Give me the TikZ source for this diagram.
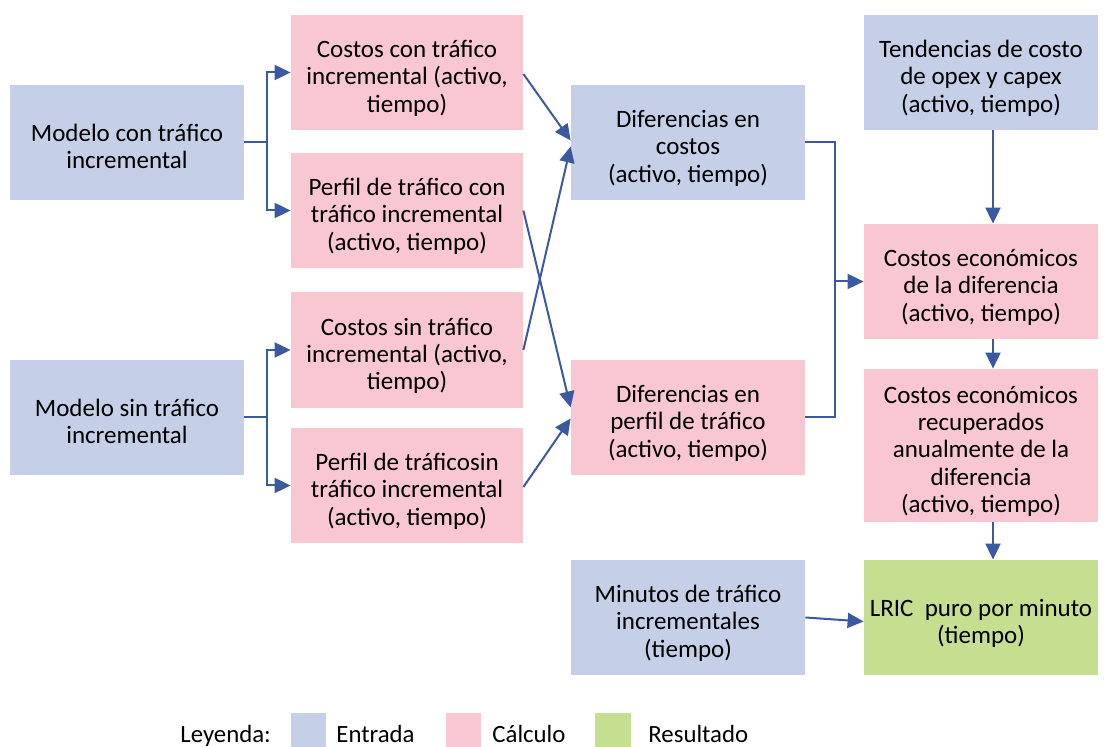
\documentclass[tikz,border=0pt]{standalone}
\usepackage{fontspec}
\setmainfont{Carlito}
\usetikzlibrary{arrows.meta,calc}
\definecolor{inblue}{RGB}{197,208,232}
\definecolor{calcpink}{RGB}{249,199,209}
\definecolor{resgreen}{RGB}{197,222,143}
\definecolor{arrowblue}{RGB}{59,89,160}
\newcommand\boxtext[1]{\raisebox{-3.5pt}[\height][\depth]{\begin{tabular}{@{}c@{}}#1\end{tabular}}}
\tikzset{
  box/.style={rectangle, inner sep=0pt, text=black,
    font=\fontsize{12.5}{13.6}\selectfont},
  inbox/.style={box, fill=inblue},
  calcbox/.style={box, fill=calcpink},
  resbox/.style={box, fill=resgreen},
  wide/.style={minimum width=117pt, minimum height=57.5pt},
  line/.style={draw=arrowblue, line width=1pt},
  arr/.style={line, -{Triangle[length=8pt,width=7.5pt]}},
  legtext/.style={font=\fontsize{12.4}{13.6}\selectfont, anchor=base west, inner sep=0pt},
  legbox/.style={rectangle, inner sep=0pt, minimum width=17.5pt, minimum height=17.5pt},
}
\begin{document}
\begin{tikzpicture}[x=0.5pt,y=-0.5pt]
\useasboundingbox (0,0) rectangle (1108,747);
% column 1
\node[inbox, wide] (mc) at (127,142.5) {\boxtext{Modelo con tráfico\\incremental}};
\node[inbox, wide] (ms) at (127,417.5) {\boxtext{Modelo sin tráfico\\incremental}};
% column 2
\node[calcbox, minimum width=116pt, minimum height=57.5pt] (cc) at (407,72.5) {\boxtext{Costos con tráfico\\incremental (activo,\\tiempo)}};
\node[calcbox, minimum width=116pt, minimum height=57.5pt] (pc) at (407,210.5) {\boxtext{Perfil de tráfico con\\tráfico incremental\\(activo, tiempo)}};
\node[calcbox, minimum width=116pt, minimum height=58pt] (cs) at (407,350) {\boxtext{Costos sin tráfico\\incremental (activo,\\tiempo)}};
\node[calcbox, minimum width=116pt, minimum height=57.5pt] (ps) at (407,485.5) {\boxtext{Perfil de tráficosin\\tráfico incremental\\(activo, tiempo)}};
% column 3
\node[inbox, wide] (dc) at (688,142.5) {\boxtext{Diferencias en\\costos\\(activo, tiempo)}};
\node[calcbox, wide] (dp) at (688,417.5) {\boxtext{Diferencias en\\perfil de tráfico\\(activo, tiempo)}};
\node[inbox, wide] (mi) at (688,617.5) {\boxtext{Minutos de tráfico\\incrementales\\(tiempo)}};
% column 4
\node[inbox, wide] (te) at (981,72.5) {\boxtext{Tendencias de costo\\de opex y capex\\(activo, tiempo)}};
\node[calcbox, wide] (ce) at (981,281.5) {\boxtext{Costos económicos\\de la diferencia\\(activo, tiempo)}};
\node[calcbox, minimum width=117pt, minimum height=76.5pt] (cer) at (981,445.5) {\boxtext{Costos económicos\\recuperados\\anualmente de la\\diferencia\\(activo, tiempo)}};
\node[resbox, wide] (lr) at (981,617.5) {\boxtext{LRIC\ \ puro por minuto\\(tiempo)}};
% connectors: models to outputs
\draw[line] (mc.east) -- ++(23,0) coordinate (j1);
\draw[arr] (j1) |- (cc.west);
\draw[arr] (j1) |- (pc.west);
\draw[line] (ms.east) -- ++(23,0) coordinate (j2);
\draw[arr] (j2) |- (cs.west);
\draw[arr] (j2) |- (ps.west);
% crossing arrows
\draw[arr] ($(cc.east)+(0,1.5)$) -- ($(dc.west)+(0,-2)$);
\draw[arr] (cs.east) -- ($(dc.west)+(0,4)$);
\draw[arr] (pc.east) -- ($(dp.west)+(0,-10)$);
\draw[arr] ($(ps.east)+(0,1.5)$) -- ($(dp.west)+(0,1)$);
% merge into economic costs
\draw[line] (dc.east) -- ++(30,0) coordinate (j3) |- (dp.east);
\draw[arr] (j3 |- ce.west) -- (ce.west);
% right column
\draw[arr] ($(te.south)+(12,0)$) -- ($(ce.north)+(12,0)$);
\draw[arr] ($(ce.south)+(12,0)$) -- ($(cer.north)+(12,0)$);
\draw[arr] ($(cer.south)+(12,0)$) -- ($(lr.north)+(12,0)$);
\draw[arr] (mi.east) -- ($(lr.west)+(0,4)$);
% legend
\node[legtext] (leg) at (180,742) {Leyenda:};
\node[legbox, fill=inblue] (lg1) at (308.5,730.5) {};
\node[legtext] (lt1) at (336,742) {Entrada};
\node[legbox, fill=calcpink] (lg2) at (463.5,730.5) {};
\node[legtext] (lt2) at (492,742) {Cálculo};
\node[legbox, fill=resgreen, minimum width=18pt] (lg3) at (613,730.5) {};
\node[legtext] (lt3) at (648,742) {Resultado};
\end{tikzpicture}
\end{document}
